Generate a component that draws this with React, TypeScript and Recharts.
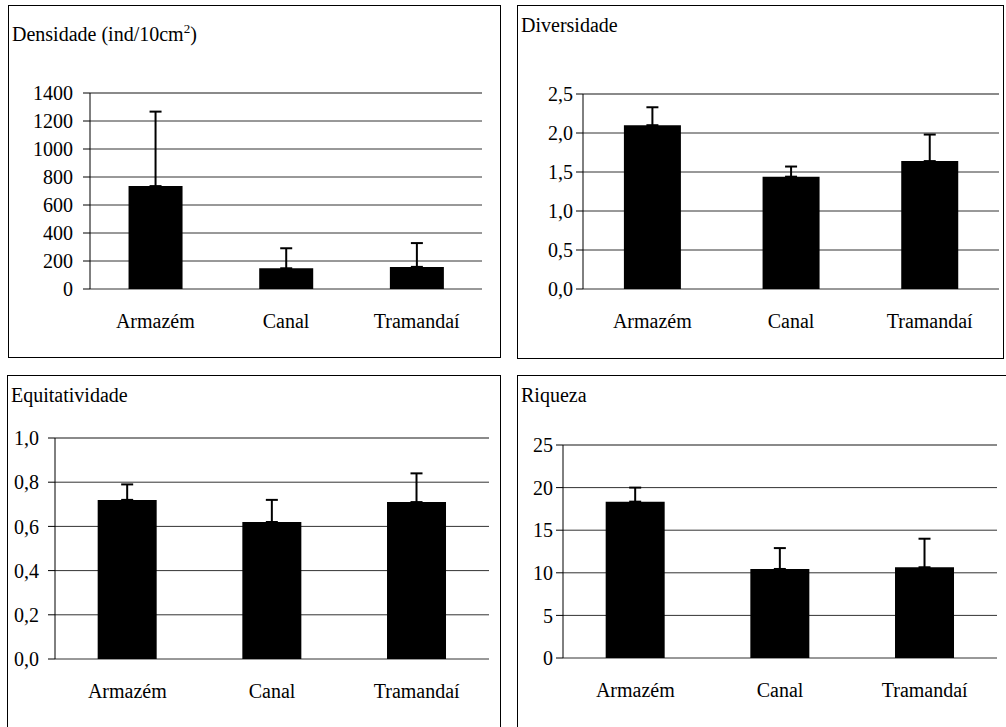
import React from "react";
import { BarChart, Bar, XAxis, YAxis, CartesianGrid, ErrorBar, ReferenceLine } from "recharts";

const sites = ["Armazém", "Canal", "Tramandaí"];

const densidadeMean = [735, 148, 158];
const densidadeErr = [532, 143, 170];
const densidadeTicks = [0, 200, 400, 600, 800, 1000, 1200, 1400];

const diversidadeMean = [2.1, 1.44, 1.64];
const diversidadeErr = [0.23, 0.13, 0.34];
const diversidadeTicks = [0, 0.5, 1, 1.5, 2, 2.5];

const equitatividadeMean = [0.72, 0.62, 0.71];
const equitatividadeErr = [0.07, 0.1, 0.13];
const equitatividadeTicks = [0, 0.2, 0.4, 0.6, 0.8, 1];

const riquezaMean = [18.35, 10.45, 10.65];
const riquezaErr = [1.65, 2.45, 3.35];
const riquezaTicks = [0, 5, 10, 15, 20, 25];

const edgeTicks = [0, 1, 2, 3];

const FONT =
  '"Times New Roman", Times, "Liberation Serif", "Noto Serif", "DejaVu Serif", serif';
const FS = 20;

const comma = (v: number) => v.toFixed(1).replace(".", ",");
const plain = (v: number) => String(v);

function buildRows(means: number[], errs: number[]) {
  return sites.map((site, i) => ({ site, mean: means[i], err: [0, errs[i]] }));
}

interface PanelProps {
  left: number;
  top: number;
  width: number;
  height: number;
  title: React.ReactNode;
  titleTop: number;
  plotLeft: number;
  plotRight: number;
  plotTop: number;
  plotBottom: number;
  labelMargin: number;
  means: number[];
  errs: number[];
  ticks: number[];
  fmt: (v: number) => string;
}

function Panel(p: PanelProps) {
  const rows = buildRows(p.means, p.errs);
  const labelAxisHeight = 40;
  const max = p.ticks[p.ticks.length - 1];
  return (
    <div style={{ position: "absolute", left: p.left, top: p.top, width: p.width, height: p.height }}>
      <div
        style={{
          position: "absolute",
          inset: 0,
          border: "1px solid #000",
          boxSizing: "border-box",
        }}
      />
      <div
        style={{
          position: "absolute",
          left: 4,
          top: p.titleTop,
          fontFamily: FONT,
          fontSize: FS,
          lineHeight: FS + "px",
          color: "#000",
          whiteSpace: "nowrap",
        }}
      >
        {p.title}
      </div>
      <div style={{ position: "absolute", left: 0, top: 0 }}>
        <BarChart
          width={p.width}
          height={p.height}
          data={rows}
          barCategoryGap="29.5%"
          style={{ fontFamily: FONT }}
          margin={{
            top: p.plotTop,
            right: p.width - p.plotRight,
            left: 0,
            bottom: p.height - p.plotBottom - labelAxisHeight,
          }}
        >
          <CartesianGrid vertical={false} stroke="#333" />
          <ReferenceLine y={max} stroke="#8a8a8a" strokeWidth={2} />
          <ReferenceLine x={3} xAxisId="edges" stroke="#8a8a8a" strokeWidth={2} />
          <Bar dataKey="mean" fill="#000" isAnimationActive={false}>
            <ErrorBar dataKey="err" direction="y" width={6} strokeWidth={2} stroke="#000" />
          </Bar>
          <XAxis
            xAxisId="edges"
            type="number"
            domain={[0, 3]}
            ticks={edgeTicks}
            allowDataOverflow
            height={0}
            tickSize={6}
            tickFormatter={() => ""}
            stroke="#000"
          />
          <XAxis
            dataKey="site"
            interval={0}
            axisLine={false}
            tickLine={false}
            tickSize={0}
            tickMargin={25}
            height={labelAxisHeight}
            tick={{ fill: "#000", fontSize: FS, fontFamily: FONT }}
          />
          <YAxis
            domain={[0, max]}
            ticks={p.ticks}
            interval={0}
            width={p.plotLeft}
            tickSize={7}
            tickMargin={p.labelMargin}
            tickFormatter={p.fmt}
            stroke="#000"
            tick={{ fill: "#000", fontSize: FS, fontFamily: FONT }}
          />
        </BarChart>
      </div>
    </div>
  );
}

export default function App() {
  return (
    <div
      style={{
        position: "absolute",
        left: 0,
        top: 0,
        width: 1006,
        height: 727,
        overflow: "hidden",
        background: "#fff",
        fontFamily: FONT,
      }}
    >
      <Panel
        left={8}
        top={5}
        width={493}
        height={353}
        title={
          <span>
            Densidade (ind/10cm<sup style={{ fontSize: 13 }}>2</sup>)
          </span>
        }
        titleTop={14}
        plotLeft={82}
        plotRight={474}
        plotTop={88}
        plotBottom={284}
        labelMargin={10}
        means={densidadeMean}
        errs={densidadeErr}
        ticks={densidadeTicks}
        fmt={plain}
      />
      <Panel
        left={517}
        top={5}
        width={487}
        height={354}
        title="Diversidade"
        titleTop={10}
        plotLeft={66}
        plotRight={482}
        plotTop={89}
        plotBottom={284}
        labelMargin={3}
        means={diversidadeMean}
        errs={diversidadeErr}
        ticks={diversidadeTicks}
        fmt={comma}
      />
      <Panel
        left={7}
        top={375}
        width={494}
        height={360}
        title="Equitatividade"
        titleTop={10}
        plotLeft={48}
        plotRight={482}
        plotTop={63}
        plotBottom={284}
        labelMargin={9}
        means={equitatividadeMean}
        errs={equitatividadeErr}
        ticks={equitatividadeTicks}
        fmt={comma}
      />
      <Panel
        left={517}
        top={375}
        width={500}
        height={360}
        title="Riqueza"
        titleTop={10}
        plotLeft={46}
        plotRight={480}
        plotTop={70}
        plotBottom={283}
        labelMargin={3}
        means={riquezaMean}
        errs={riquezaErr}
        ticks={riquezaTicks}
        fmt={plain}
      />
    </div>
  );
}
